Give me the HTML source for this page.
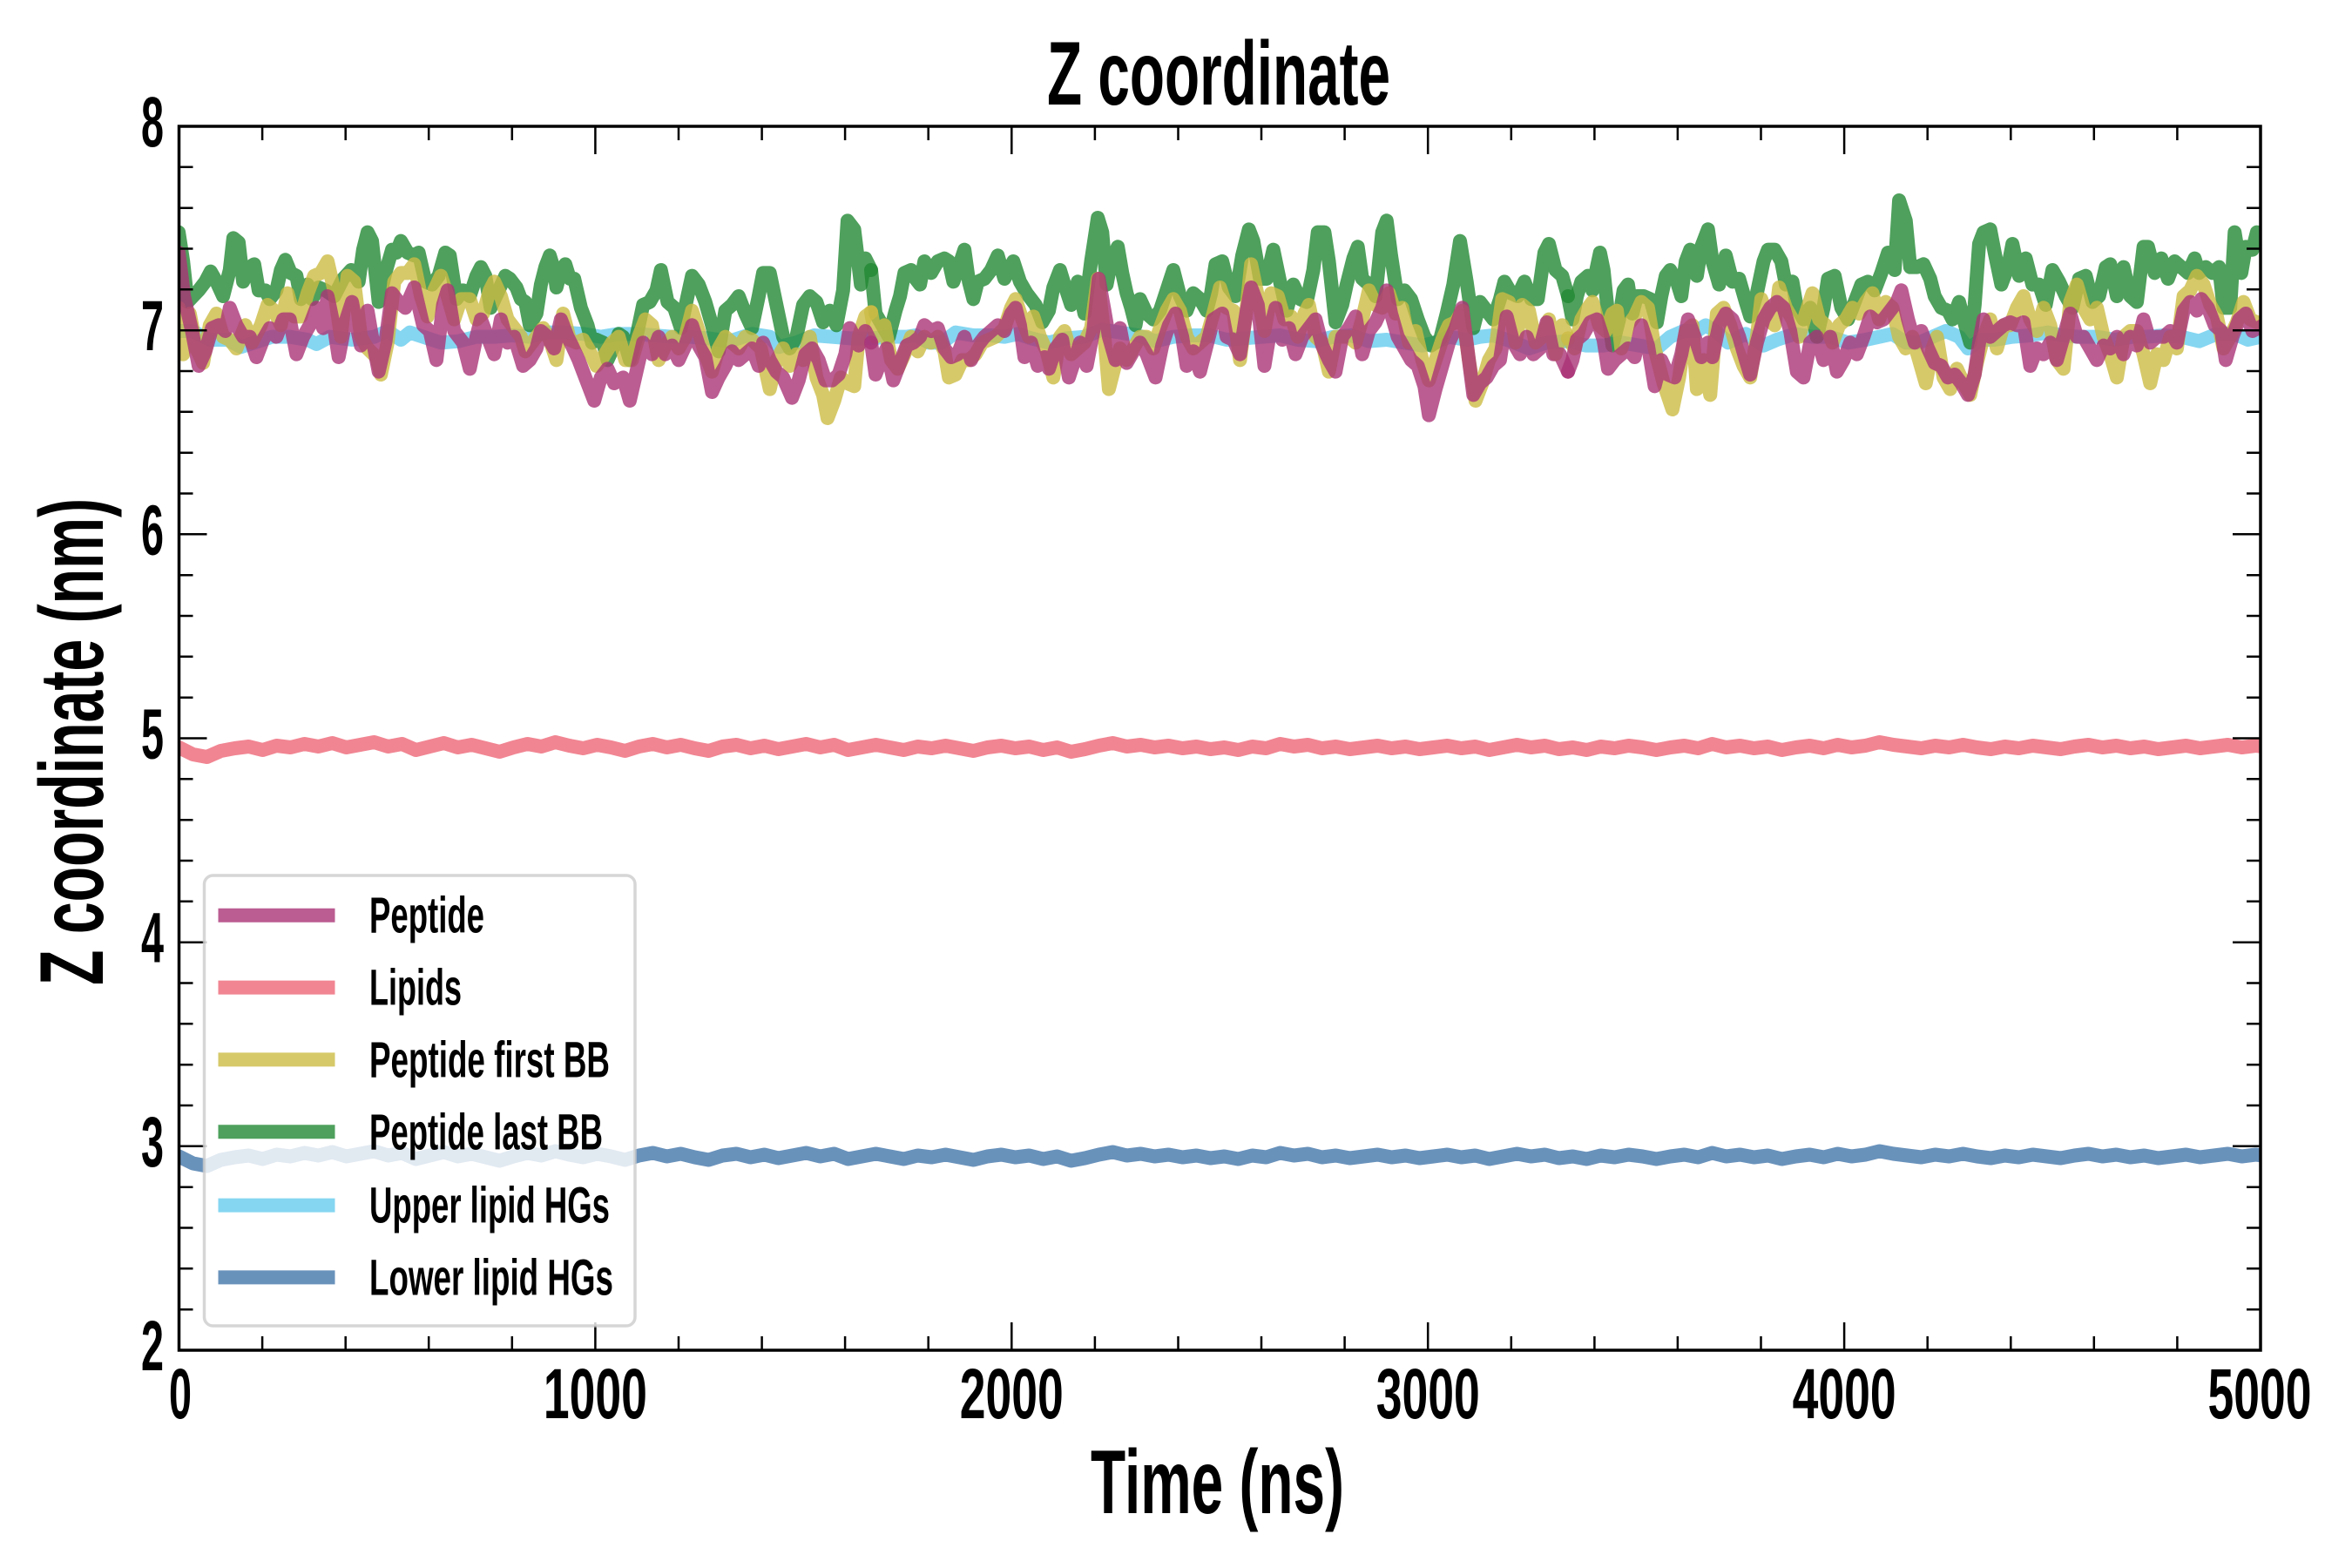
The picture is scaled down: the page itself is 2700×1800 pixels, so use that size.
<!DOCTYPE html>
<html>
<head>
<meta charset="utf-8">
<style>
  html, body { margin: 0; padding: 0; background: #ffffff; }
  svg { display: block; }
  text { font-family: "Liberation Sans Narrow", "Liberation Sans", sans-serif; font-weight: bold; fill: #000; }
</style>
</head>
<body>
<svg width="2700" height="1800" viewBox="0 0 2700 1800" xmlns="http://www.w3.org/2000/svg">
  <rect x="0" y="0" width="2700" height="1800" fill="#ffffff"/>
  <defs>
    <clipPath id="plotclip">
      <rect x="205.5" y="145" width="2389.5" height="1405"/>
    </clipPath>
    <polyline id="noise" fill="none" points="0,-2 16,6 32,9 48,2 64,-1 80,-3 96,1 112,-4 128,-2 144,-6 160,-3 176,-7 192,-2 208,-5 224,-8 240,-3 256,-6 272,1 288,-3 304,-7 320,-2 336,-5 352,-1 368,3 384,-2 400,-6 416,-3 432,-8 448,-4 464,-1 480,-5 496,-2 512,2 528,-3 544,-6 560,-2 576,-5 592,-1 608,2 624,-3 640,-5 656,-1 672,-4 688,0 704,-3 720,-6 736,-2 752,-5 768,1 784,-2 800,-5 816,-2 832,1 848,-3 864,-1 880,-4 896,-1 912,2 928,-2 944,-4 960,-1 976,-3 992,1 1008,-2 1024,3 1040,0 1056,-4 1072,-7 1088,-3 1104,-5 1120,-2 1136,-4 1152,-1 1168,-3 1184,0 1200,-2 1216,1 1232,-3 1248,-1 1264,-6 1280,-3 1296,-5 1312,-1 1328,-3 1344,0 1360,-2 1376,-4 1392,-1 1408,-3 1424,0 1440,-2 1456,-4 1472,-1 1488,-3 1504,1 1520,-2 1536,-5 1552,-2 1568,-4 1584,0 1600,-2 1616,1 1632,-3 1648,-1 1664,-4 1680,-2 1696,1 1712,-2 1728,-4 1744,-1 1760,-6 1776,-2 1792,-4 1808,-1 1824,-3 1840,1 1856,-2 1872,-4 1888,-1 1904,-5 1920,-2 1936,-4 1952,-8 1968,-5 1984,-3 2000,-1 2016,-4 2032,-2 2048,-5 2064,-2 2080,0 2096,-3 2112,-1 2128,-4 2144,-2 2160,0 2176,-3 2192,-5 2208,-2 2224,-4 2240,-1 2256,-3 2272,0 2288,-2 2304,-4 2320,-1 2336,-3 2352,-5 2368,-2 2384,-4 2392,-3"/>
  </defs>

  <!-- DATA -->
  <g clip-path="url(#plotclip)" fill="none" stroke-width="16" stroke-linejoin="round" stroke-linecap="round" stroke-opacity="0.8">
    <!-- Upper lipid HGs (cyan) -->
    <g stroke="#66CCEE">
      <g transform="translate(200,200) scale(0.5102,0.33333)">
        <polyline vector-effect="non-scaling-stroke" points="10,540 40,540 80,570 120,570 150,595 180,580 220,560 260,560 300,570 320,585 350,560 400,570 450,560 480,540 510,570 530,545 560,560 600,580 640,575 680,560 720,560 760,555 800,560 840,545 880,545 920,550 960,560 1000,550 1040,550 1080,555 1120,560 1160,560 1200,565 1250,575 1300,550 1340,560 1360,595 1400,580 1440,555 1480,560 1520,565 1568,565"/>
      </g>
      <g transform="translate(1000,200) scale(0.5102,0.33333)">
        <polyline vector-effect="non-scaling-stroke" points="0,565 40,560 80,560 100,555 130,580 160,580 190,545 230,555 270,555 300,560 330,550 360,565 400,580 440,565 480,560 520,535 560,545 600,555 640,575 680,560 720,555 760,555 800,570 840,565 880,560 920,555 960,570 1000,575 1040,560 1080,555 1120,575 1160,570 1200,580 1240,590 1270,580 1300,560 1340,570 1370,560 1400,555 1440,575 1480,600 1520,580 1568,575"/>
      </g>
      <g transform="translate(1800,200) scale(0.5102,0.33333)">
        <polyline vector-effect="non-scaling-stroke" points="0,575 40,590 80,590 120,580 160,590 200,600 230,560 260,540 290,540 310,520 340,550 360,580 400,550 440,590 470,570 510,550 550,560 590,560 630,580 670,570 700,560 730,550 760,580 790,580 820,560 850,540 880,560 900,600 930,570 960,570 1000,560 1040,555 1080,545 1110,555 1150,560 1190,560 1230,570 1270,560 1300,560 1340,555 1380,560 1420,575 1460,550 1500,550 1530,570 1558,560"/>
      </g>
    </g>

    <!-- Lower lipid HGs (blue) -->
    <use href="#noise" stroke="#4477AA" transform="translate(205.5,1329.5)"/>
    <!-- Lipids (pink) -->
    <use href="#noise" stroke="#EE6677" transform="translate(205.5,860)"/>

    <!-- Peptide last BB (green) -->
    <g stroke="#228833">
      <g transform="translate(200,200) scale(0.5102,0.33333)">
        <polyline vector-effect="non-scaling-stroke" points="10,200 20,300 30,440 55,400 70,370 82,335 95,370 110,420 125,330 133,220 145,235 155,370 170,320 180,310 190,400 205,400 215,430 230,400 240,330 250,295 262,340 275,350 285,430 300,380 310,430 325,390 340,400 360,420 380,360 398,330 415,370 425,260 435,200 445,230 460,440 475,340 490,260 500,270 510,230 525,270 540,280 550,270 565,370 580,380 595,350 610,270 620,280 635,430 650,400 665,420 680,350 690,320 700,350 712,460 730,400 745,350 755,360 770,390 780,430 790,440 800,520 815,480 825,380 835,320 845,280 855,330 860,390 870,330 880,310 890,360 900,360 915,460 930,520 940,580 950,570 965,580 975,640 990,590 1000,550 1010,560 1025,640 1040,560 1055,450 1070,440 1085,400 1095,330 1110,440 1125,460 1140,530 1155,420 1165,350 1180,380 1195,440 1210,520 1225,610 1240,470 1255,450 1270,420 1285,480 1300,530 1315,420 1325,340 1340,340 1355,450 1370,560 1385,600 1400,560 1415,450 1430,420 1445,440 1460,510 1475,470 1490,520 1505,400 1515,160 1530,190 1545,380 1555,290 1568,330"/>
      </g>
      <g transform="translate(1000,200) scale(0.5102,0.33333)">
        <polyline vector-effect="non-scaling-stroke" points="0,330 10,480 25,520 40,560 55,470 65,420 75,340 90,330 100,360 110,380 120,300 135,340 150,300 165,290 175,300 185,370 195,330 210,260 220,370 230,430 240,370 255,360 270,330 285,280 300,360 310,330 320,300 335,370 350,410 370,450 385,510 400,470 410,390 425,330 435,380 450,450 465,370 480,480 495,300 510,150 520,200 530,380 540,300 555,250 565,340 575,410 585,460 595,520 605,430 620,480 635,500 650,470 665,400 680,330 695,420 710,470 725,410 740,430 755,470 765,410 775,310 790,300 805,390 820,420 835,280 850,190 860,230 875,360 890,360 905,260 920,370 935,470 950,380 965,430 980,440 995,330 1005,200 1020,200 1030,300 1045,510 1060,450 1070,380 1085,290 1095,250 1105,360 1120,380 1135,420 1150,200 1160,160 1170,280 1185,430 1200,400 1215,430 1230,500 1245,560 1260,590 1280,570 1295,480 1310,380 1325,230 1340,370 1355,530 1370,440 1385,470 1400,500 1415,430 1425,370 1440,410 1455,420 1470,370 1485,430 1500,430 1515,270 1525,240 1540,330 1555,350 1568,420"/>
      </g>
      <g transform="translate(1800,200) scale(0.5102,0.33333)">
        <polyline vector-effect="non-scaling-stroke" points="0,420 10,500 20,420 30,370 45,350 55,400 65,320 72,270 80,330 90,480 100,590 115,500 125,400 135,380 145,480 155,420 170,420 185,430 200,510 210,420 220,350 230,330 245,370 255,420 265,300 275,260 290,350 300,250 315,190 325,300 340,380 355,280 370,370 385,360 400,440 410,490 425,410 440,300 450,260 465,260 480,300 490,380 505,370 515,460 530,500 545,460 560,560 575,460 585,360 600,350 615,460 630,500 645,440 660,380 675,370 690,400 705,340 720,270 735,330 745,90 760,160 770,320 785,320 800,310 815,360 825,420 840,460 855,470 865,500 880,440 890,500 905,580 915,450 925,240 935,200 950,190 960,270 975,380 990,320 1000,240 1015,350 1030,290 1045,380 1060,380 1075,450 1090,330 1105,370 1120,420 1135,460 1150,360 1165,350 1180,440 1195,420 1210,320 1220,310 1235,420 1250,320 1265,420 1280,440 1295,250 1305,250 1320,340 1335,290 1350,360 1365,300 1380,320 1395,340 1410,290 1420,340 1435,320 1450,340 1465,320 1475,460 1490,460 1500,200 1515,340 1525,250 1540,260 1550,200 1565,220"/>
      </g>
    </g>

    <!-- Peptide first BB (yellow) -->
    <g stroke="#CCBB44">
      <g transform="translate(200,200) scale(0.5102,0.33333)">
        <polyline vector-effect="non-scaling-stroke" points="10,460 20,620 35,480 50,600 65,650 80,520 95,480 110,560 125,570 140,600 160,520 175,580 195,520 210,450 225,470 240,520 255,410 270,490 285,490 300,410 315,350 330,340 345,300 360,400 375,560 390,350 405,370 420,560 435,600 455,630 465,690 480,580 495,370 510,340 525,340 540,310 555,420 570,490 585,400 600,350 615,420 630,500 645,430 665,430 680,500 695,480 710,400 720,370 735,420 750,500 765,530 780,560 790,610 800,590 815,560 830,530 845,570 860,640 875,480 890,570 905,580 920,570 935,610 950,660 965,630 985,580 1000,560 1015,640 1030,640 1045,560 1060,500 1075,520 1090,640 1105,590 1120,560 1135,600 1150,560 1165,470 1180,540 1195,620 1210,680 1225,600 1240,560 1255,580 1270,600 1285,560 1300,570 1320,600 1340,740 1355,640 1370,600 1385,660 1400,620 1415,640 1430,560 1445,700 1460,760 1470,840 1485,780 1500,700 1515,720 1530,730 1540,560 1555,490 1568,475"/>
      </g>
      <g transform="translate(1000,200) scale(0.5102,0.33333)">
        <polyline vector-effect="non-scaling-stroke" points="0,475 10,560 30,520 45,640 60,670 75,620 90,560 105,610 120,560 135,580 150,560 165,610 175,700 190,690 205,640 220,640 235,620 250,580 265,570 280,560 300,530 315,460 325,430 340,500 355,560 365,490 380,560 395,610 410,700 425,560 435,540 450,620 465,600 480,580 495,530 510,360 525,560 535,740 550,650 560,600 575,640 590,600 605,560 620,560 635,600 650,530 665,470 680,430 695,470 710,560 725,600 740,580 755,560 770,480 785,390 800,460 815,470 830,640 845,460 855,310 870,420 885,540 900,410 915,420 930,500 945,490 960,560 975,480 985,450 1000,560 1015,580 1030,680 1045,560 1060,560 1075,560 1090,580 1105,500 1120,400 1135,450 1150,460 1165,410 1180,480 1195,460 1210,580 1225,540 1240,640 1255,710 1270,640 1285,570 1300,520 1315,510 1330,470 1345,640 1360,780 1375,720 1390,640 1405,600 1420,430 1435,440 1450,580 1465,450 1480,470 1495,580 1510,560 1525,500 1540,620 1555,520 1568,565"/>
      </g>
      <g transform="translate(1800,200) scale(0.5102,0.33333)">
        <polyline vector-effect="non-scaling-stroke" points="0,565 15,600 30,500 45,460 55,440 70,520 85,540 100,480 110,470 120,600 135,520 150,490 165,440 180,460 195,600 215,720 235,810 250,700 265,540 280,520 290,740 305,640 320,760 335,480 350,460 365,520 380,600 395,660 410,700 425,560 435,430 450,500 465,520 475,390 490,460 505,500 520,560 535,480 550,410 565,500 580,520 595,580 610,520 625,500 640,460 655,480 670,440 685,410 700,500 715,440 730,460 745,560 760,600 775,560 790,640 805,720 820,600 830,560 845,700 860,740 875,670 890,720 905,760 920,650 935,560 950,500 965,600 980,520 995,520 1010,460 1025,420 1040,500 1055,540 1070,460 1085,520 1100,640 1115,670 1130,440 1145,380 1160,460 1175,500 1190,460 1205,560 1220,620 1235,700 1250,560 1265,540 1280,540 1295,620 1310,720 1325,620 1340,640 1355,560 1370,600 1385,420 1400,400 1415,350 1430,380 1445,450 1460,490 1475,600 1490,560 1505,510 1520,440 1535,500 1565,520"/>
      </g>
    </g>

    <!-- Peptide (purple) -->
    <g stroke="#AA3377">
      <g transform="translate(200,200) scale(0.5102,0.33333)">
        <polyline vector-effect="non-scaling-stroke" points="10,270 22,420 40,540 55,660 70,610 85,530 100,520 115,540 125,460 140,520 155,560 170,560 185,630 200,570 215,530 230,560 245,500 260,500 275,620 290,560 305,520 320,460 335,530 345,420 360,530 370,630 385,510 400,440 410,520 420,590 435,470 445,560 460,680 475,580 490,410 505,440 520,460 540,390 560,520 575,540 590,640 605,450 615,400 630,540 650,580 665,670 680,560 690,500 705,560 720,620 735,500 750,580 765,560 785,660 800,640 815,600 825,540 840,560 855,600 870,500 885,560 895,590 910,640 925,700 945,780 960,700 975,670 990,720 1010,700 1025,780 1040,680 1055,580 1075,620 1090,560 1105,620 1120,590 1135,640 1150,590 1165,520 1180,590 1195,630 1210,750 1225,700 1240,660 1255,610 1270,640 1285,620 1300,600 1315,660 1325,580 1340,640 1355,680 1370,700 1390,770 1405,710 1420,620 1435,600 1450,640 1465,710 1480,710 1495,690 1510,620 1520,530 1540,590 1555,540 1568,580"/>
      </g>
      <g transform="translate(1000,200) scale(0.5102,0.33333)">
        <polyline vector-effect="non-scaling-stroke" points="0,580 10,690 25,630 35,600 50,710 65,650 80,590 95,580 110,560 120,520 135,540 150,530 165,600 180,630 195,620 210,560 225,640 240,590 255,560 270,540 285,520 300,540 315,480 325,460 335,520 345,630 360,580 375,660 390,630 400,670 415,600 430,570 445,700 460,630 470,580 485,660 500,540 512,360 525,470 535,560 550,640 560,530 575,650 590,610 605,580 620,620 640,700 655,590 670,520 685,480 700,560 710,660 725,610 740,680 755,590 770,500 790,480 800,560 815,570 830,620 845,470 855,390 870,450 885,660 900,520 910,460 925,570 940,530 955,620 970,560 985,530 1000,500 1015,590 1030,640 1045,680 1060,560 1075,530 1090,490 1105,620 1120,540 1135,510 1150,460 1160,400 1170,480 1185,560 1200,600 1215,640 1230,660 1245,730 1255,830 1270,740 1285,660 1300,580 1315,530 1330,460 1345,640 1355,760 1370,720 1385,700 1400,660 1415,640 1430,490 1445,580 1460,620 1475,560 1490,620 1505,600 1520,510 1535,620 1550,620 1568,680"/>
      </g>
      <g transform="translate(1800,200) scale(0.5102,0.33333)">
        <polyline vector-effect="non-scaling-stroke" points="0,680 10,640 20,570 35,550 50,510 65,500 80,570 90,670 105,640 120,620 135,600 150,630 165,520 180,590 195,730 210,640 225,690 240,700 255,620 270,500 285,560 300,630 315,580 325,630 340,520 355,480 370,500 385,560 400,640 410,690 425,580 440,500 455,460 470,440 485,460 500,540 515,680 530,700 545,580 560,560 575,640 590,560 605,680 620,640 635,580 650,620 665,560 680,490 695,510 710,500 725,470 740,440 750,400 765,500 780,580 795,540 810,600 825,650 840,660 855,700 870,690 885,720 900,760 915,690 925,580 935,500 950,560 965,540 980,520 995,510 1010,520 1025,510 1040,660 1055,600 1070,620 1085,580 1100,640 1115,560 1130,480 1145,560 1160,560 1175,600 1190,640 1205,590 1220,600 1235,560 1250,620 1265,560 1280,590 1295,500 1310,580 1325,560 1340,560 1355,540 1370,580 1385,470 1400,440 1415,470 1425,430 1440,460 1455,520 1470,540 1480,640 1495,560 1510,500 1525,480 1540,540 1565,520"/>
      </g>
    </g>
  </g>

  <!-- TICKS -->
  <g stroke="#000" stroke-width="2.5" fill="none">
    <path d="M301.1,1550V1534M396.7,1550V1534M492.2,1550V1534M587.8,1550V1534M779.0,1550V1534M874.6,1550V1534M970.1,1550V1534M1065.7,1550V1534M1256.9,1550V1534M1352.5,1550V1534M1448.0,1550V1534M1543.6,1550V1534M1734.8,1550V1534M1830.4,1550V1534M1925.9,1550V1534M2021.5,1550V1534M2212.7,1550V1534M2308.3,1550V1534M2403.8,1550V1534M2499.4,1550V1534"/>
    <path d="M301.1,145V161M396.7,145V161M492.2,145V161M587.8,145V161M779.0,145V161M874.6,145V161M970.1,145V161M1065.7,145V161M1256.9,145V161M1352.5,145V161M1448.0,145V161M1543.6,145V161M1734.8,145V161M1830.4,145V161M1925.9,145V161M2021.5,145V161M2212.7,145V161M2308.3,145V161M2403.8,145V161M2499.4,145V161"/>
    <path d="M205.5,1550V1518M683.4,1550V1518M1161.3,1550V1518M1639.2,1550V1518M2117.1,1550V1518M2595,1550V1518"/>
    <path d="M205.5,145V177M683.4,145V177M1161.3,145V177M1639.2,145V177M2117.1,145V177M2595,145V177"/>
    <path d="M205.5,191.8H221.5M205.5,238.7H221.5M205.5,285.5H221.5M205.5,332.3H221.5M205.5,426.0H221.5M205.5,472.8H221.5M205.5,519.7H221.5M205.5,566.5H221.5M205.5,660.2H221.5M205.5,707.0H221.5M205.5,753.8H221.5M205.5,800.7H221.5M205.5,894.3H221.5M205.5,941.2H221.5M205.5,988.0H221.5M205.5,1034.8H221.5M205.5,1128.5H221.5M205.5,1175.3H221.5M205.5,1222.2H221.5M205.5,1269.0H221.5M205.5,1362.7H221.5M205.5,1409.5H221.5M205.5,1456.3H221.5M205.5,1503.2H221.5"/>
    <path d="M2595,191.8H2579M2595,238.7H2579M2595,285.5H2579M2595,332.3H2579M2595,426.0H2579M2595,472.8H2579M2595,519.7H2579M2595,566.5H2579M2595,660.2H2579M2595,707.0H2579M2595,753.8H2579M2595,800.7H2579M2595,894.3H2579M2595,941.2H2579M2595,988.0H2579M2595,1034.8H2579M2595,1128.5H2579M2595,1175.3H2579M2595,1222.2H2579M2595,1269.0H2579M2595,1362.7H2579M2595,1409.5H2579M2595,1456.3H2579M2595,1503.2H2579"/>
    <path d="M205.5,145H237.5M205.5,379.2H237.5M205.5,613.3H237.5M205.5,847.5H237.5M205.5,1081.7H237.5M205.5,1315.8H237.5M205.5,1550H237.5"/>
    <path d="M2595,145H2563M2595,379.2H2563M2595,613.3H2563M2595,847.5H2563M2595,1081.7H2563M2595,1315.8H2563M2595,1550H2563"/>
  </g>

  <!-- SPINES -->
  <rect x="205.5" y="145" width="2389.5" height="1405" fill="none" stroke="#000" stroke-width="3.5"/>

  <!-- LEGEND -->
  <g>
    <rect x="234.5" y="1005" width="494.5" height="517" rx="10" ry="10" fill="#ffffff" fill-opacity="0.8" stroke="#cccccc" stroke-opacity="0.8" stroke-width="3.5"/>
    <g stroke-width="16" stroke-opacity="0.8" fill="none">
      <path d="M250.5,1050.7H384.5" stroke="#AA3377"/>
      <path d="M250.5,1133.6H384.5" stroke="#EE6677"/>
      <path d="M250.5,1216.4H384.5" stroke="#CCBB44"/>
      <path d="M250.5,1299.3H384.5" stroke="#228833"/>
      <path d="M250.5,1383.6H384.5" stroke="#66CCEE"/>
      <path d="M250.5,1466.4H384.5" stroke="#4477AA"/>
    </g>
    <g font-size="58">
      <text x="424" y="1070.7" textLength="132" lengthAdjust="spacingAndGlyphs">Peptide</text>
      <text x="424" y="1153.6" textLength="106" lengthAdjust="spacingAndGlyphs">Lipids</text>
      <text x="424" y="1236.4" textLength="276" lengthAdjust="spacingAndGlyphs">Peptide first BB</text>
      <text x="424" y="1319.3" textLength="268" lengthAdjust="spacingAndGlyphs">Peptide last BB</text>
      <text x="424" y="1403.6" textLength="276" lengthAdjust="spacingAndGlyphs">Upper lipid HGs</text>
      <text x="424" y="1486.4" textLength="280" lengthAdjust="spacingAndGlyphs">Lower lipid HGs</text>
    </g>
  </g>

  <!-- TICK LABELS -->
  <g font-size="82" text-anchor="middle">
    <text x="207" y="1628" textLength="26" lengthAdjust="spacingAndGlyphs">0</text>
    <text x="683.4" y="1628" textLength="119" lengthAdjust="spacingAndGlyphs">1000</text>
    <text x="1161.3" y="1628" textLength="119" lengthAdjust="spacingAndGlyphs">2000</text>
    <text x="1639.2" y="1628" textLength="119" lengthAdjust="spacingAndGlyphs">3000</text>
    <text x="2117.1" y="1628" textLength="119" lengthAdjust="spacingAndGlyphs">4000</text>
    <text x="2594" y="1628" textLength="119" lengthAdjust="spacingAndGlyphs">5000</text>
  </g>
  <g font-size="82" text-anchor="end">
    <text x="188" y="168" textLength="26" lengthAdjust="spacingAndGlyphs">8</text>
    <text x="188" y="402.2" textLength="26" lengthAdjust="spacingAndGlyphs">7</text>
    <text x="188" y="636.3" textLength="26" lengthAdjust="spacingAndGlyphs">6</text>
    <text x="188" y="870.5" textLength="26" lengthAdjust="spacingAndGlyphs">5</text>
    <text x="188" y="1104.7" textLength="26" lengthAdjust="spacingAndGlyphs">4</text>
    <text x="188" y="1338.8" textLength="26" lengthAdjust="spacingAndGlyphs">3</text>
    <text x="188" y="1573" textLength="26" lengthAdjust="spacingAndGlyphs">2</text>
  </g>

  <!-- TITLE & AXIS LABELS -->
  <text x="1202" y="120" font-size="104" textLength="394" lengthAdjust="spacingAndGlyphs">Z coordinate</text>
  <text x="1252" y="1737" font-size="104" textLength="291" lengthAdjust="spacingAndGlyphs">Time (ns)</text>
  <text transform="translate(118,1131) rotate(-90)" font-size="104" textLength="559" lengthAdjust="spacingAndGlyphs">Z coordinate (nm)</text>
</svg>
</body>
</html>
